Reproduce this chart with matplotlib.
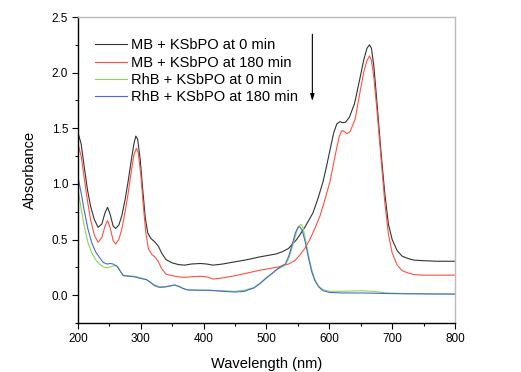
import matplotlib
matplotlib.use("Agg")
import matplotlib.pyplot as plt
from matplotlib.ticker import MultipleLocator

plt.rcParams['font.family'] = ['Liberation Sans', 'DejaVu Sans']

# MB + KSbPO at 0 min
wl_mb0 = [200, 205, 210, 215, 220, 226, 232, 238, 243, 247, 251, 256, 260, 265, 270,
          275, 280, 285, 289, 292, 295, 299, 303, 307, 311, 316, 322, 328, 333, 340,
          350, 360, 370, 380, 395, 405, 415, 430, 450, 470, 490, 505, 515, 525, 535,
          548, 561, 574, 582, 590, 596, 602, 607, 612, 617, 621, 626, 632, 640, 648, 655,
          660, 664, 667, 671, 676, 682, 688, 694, 700, 708, 716, 725, 735, 750, 770, 800]
abs_mb0 = [1.46, 1.36, 1.15, 0.95, 0.80, 0.68, 0.61, 0.64, 0.74, 0.79, 0.73, 0.62, 0.60, 0.63, 0.72,
           0.86, 1.03, 1.22, 1.36, 1.43, 1.40, 1.22, 0.95, 0.70, 0.56, 0.51, 0.48, 0.44, 0.38, 0.32,
           0.29, 0.275, 0.27, 0.28, 0.285, 0.28, 0.27, 0.28, 0.30, 0.32, 0.345, 0.36, 0.37, 0.39, 0.42,
           0.50, 0.61, 0.74, 0.87, 1.02, 1.17, 1.33, 1.46, 1.54, 1.56, 1.55, 1.555, 1.60, 1.72, 1.93, 2.12,
           2.22, 2.25, 2.22, 2.05, 1.72, 1.30, 0.93, 0.64, 0.50, 0.40, 0.35, 0.33, 0.315, 0.31, 0.305, 0.305]

# MB + KSbPO at 180 min
wl_mb180 = [200, 205, 210, 215, 220, 226, 232, 238, 243, 247, 251, 256, 260, 265, 270,
            275, 280, 285, 289, 293, 296, 300, 304, 308, 312, 317, 323, 328, 333, 340,
            350, 360, 370, 380, 395, 405, 415, 430, 450, 470, 490, 505, 520, 535, 545,
            553, 561, 569, 577, 585, 593, 601, 607, 612, 616, 620, 624, 628, 633, 641, 648,
            655, 660, 664, 667, 671, 676, 682, 688, 694, 700, 708, 716, 725, 735, 750, 770, 800]
abs_mb180 = [1.36, 1.25, 1.05, 0.85, 0.68, 0.54, 0.475, 0.52, 0.62, 0.67, 0.61, 0.49, 0.46, 0.50, 0.60,
             0.75, 0.92, 1.12, 1.26, 1.32, 1.28, 1.08, 0.80, 0.56, 0.42, 0.37, 0.34, 0.30, 0.24, 0.19,
             0.175, 0.165, 0.16, 0.165, 0.17, 0.165, 0.145, 0.155, 0.175, 0.20, 0.225, 0.24, 0.255, 0.28, 0.31,
             0.36, 0.42, 0.50, 0.60, 0.71, 0.86, 1.02, 1.19, 1.33, 1.43, 1.48, 1.47, 1.45, 1.47, 1.58, 1.80,
             2.01, 2.11, 2.15, 2.11, 1.95, 1.65, 1.25, 0.85, 0.55, 0.38, 0.27, 0.22, 0.20, 0.185, 0.18, 0.18, 0.18]

# RhB + KSbPO at 0 min
wl_rhb0 = [200, 205, 210, 216, 222, 228, 234, 240, 246, 252, 258, 263, 268, 272, 280,
           290, 300, 309, 315, 322, 330, 340, 348, 354, 360, 368, 375, 390, 410, 430,
           450, 465, 480, 490, 500, 510, 517, 525, 530, 536, 542, 548, 552, 555, 558,
           562, 567, 572, 577, 583, 590, 600, 620, 650, 670, 690, 720, 760, 800]
abs_rhb0 = [0.95, 0.78, 0.62, 0.47, 0.38, 0.32, 0.28, 0.255, 0.245, 0.255, 0.265, 0.26, 0.21, 0.18, 0.175,
            0.17, 0.155, 0.14, 0.12, 0.09, 0.075, 0.078, 0.085, 0.09, 0.08, 0.06, 0.048, 0.045, 0.045, 0.04,
            0.035, 0.045, 0.07, 0.11, 0.16, 0.20, 0.23, 0.255, 0.27, 0.34, 0.45, 0.57, 0.625, 0.635, 0.61,
            0.50, 0.36, 0.23, 0.14, 0.08, 0.05, 0.035, 0.035, 0.04, 0.035, 0.02, 0.015, 0.012, 0.01]

# RhB + KSbPO at 180 min
wl_rhb180 = [200, 205, 210, 216, 222, 228, 234, 240, 246, 252, 256, 262, 268, 272, 280,
             290, 300, 309, 315, 322, 330, 340, 348, 354, 360, 368, 375, 390, 410, 430,
             450, 465, 480, 490, 500, 510, 517, 525, 530, 536, 541, 546, 550, 553, 557,
             562, 567, 572, 577, 583, 590, 600, 620, 650, 670, 690, 720, 760, 800]
abs_rhb180 = [1.06, 0.92, 0.76, 0.59, 0.47, 0.39, 0.34, 0.295, 0.28, 0.285, 0.28, 0.26, 0.21, 0.175, 0.17,
              0.165, 0.15, 0.14, 0.115, 0.085, 0.07, 0.075, 0.085, 0.092, 0.08, 0.058, 0.047, 0.045, 0.043, 0.035,
              0.028, 0.035, 0.065, 0.105, 0.155, 0.20, 0.235, 0.265, 0.28, 0.36, 0.46, 0.56, 0.61, 0.615, 0.58,
              0.47, 0.33, 0.21, 0.13, 0.075, 0.04, 0.025, 0.02, 0.02, 0.018, 0.015, 0.013, 0.011, 0.01]

labels = ['MB + KSbPO at 0 min', 'MB + KSbPO at 180 min',
          'RhB + KSbPO at 0 min', 'RhB + KSbPO at 180 min']
colors = ['#333333', '#ff5040', '#88d858', '#4a6ad0']

fig = plt.figure(figsize=(5.21, 3.72), dpi=100)
ax = fig.add_axes([0.1497, 0.1317, 0.7236, 0.8226])

series = [(wl_mb0, abs_mb0), (wl_mb180, abs_mb180), (wl_rhb0, abs_rhb0), (wl_rhb180, abs_rhb180)]
for (x, y), lab, c in zip(series, labels, colors):
    ax.plot(x, y, color=c, lw=0.8, label=lab)

ax.set_xlim(200, 800)
ax.set_ylim(-0.25, 2.5)
ax.xaxis.set_major_locator(MultipleLocator(100))
ax.xaxis.set_minor_locator(MultipleLocator(50))
ax.yaxis.set_major_locator(MultipleLocator(0.5))
ax.yaxis.set_minor_locator(MultipleLocator(0.25))
ax.tick_params(which='major', direction='out', length=4, width=0.8, labelsize=8.5, pad=3)
ax.tick_params(which='minor', direction='out', length=2.5, width=0.8)
ax.set_xlabel('Wavelength (nm)', fontsize=10.5, labelpad=9)
ax.set_ylabel('Absorbance', fontsize=10.5, labelpad=11)

for s in ['top', 'right']:
    ax.spines[s].set_color('#bbbbbb')
    ax.spines[s].set_linewidth(1.0)
for s in ['left', 'bottom']:
    ax.spines[s].set_linewidth(1.0)

ax.annotate('', xy=(573, 1.72), xytext=(573, 2.37),
            arrowprops=dict(arrowstyle='-|>,head_length=0.4,head_width=0.12', color='black', lw=0.8))

ax.legend(loc='upper left', bbox_to_anchor=(0.045, 0.93), frameon=False, fontsize=10.5,
          handlelength=2.2, handletextpad=0.3, labelspacing=0.22, borderpad=0, borderaxespad=0)

fig.savefig('out.png', dpi=100)
